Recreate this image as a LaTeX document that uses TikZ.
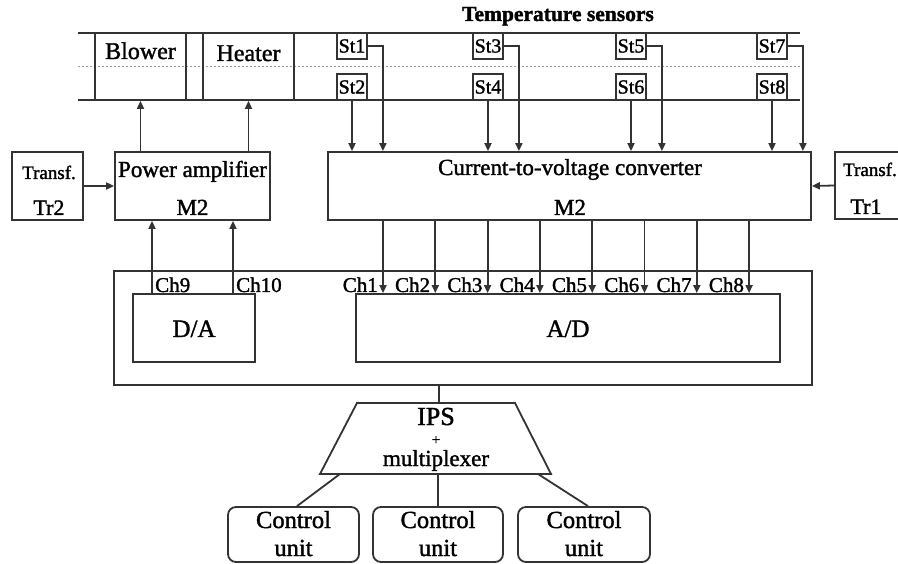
\documentclass[tikz,border=0pt]{standalone}
\usepackage{fontspec}
\setmainfont{Liberation Serif}[FakeBold=1.5]
\usetikzlibrary{arrows.meta}
\tikzset{
  ln/.style={line width=1.8pt, draw=black!80},
  box/.style 2 args={ln, rectangle, inner sep=0pt, minimum width=#1, minimum height=#2},
  arr/.style={ln, -{Triangle[length=8pt,width=7pt]}},
  dotl/.style={draw=black!40, line width=1pt, dash pattern=on 1.5pt off 2.5pt},
  fs/.style={font=\fontsize{#1}{#1}\selectfont},
  tx/.style={inner sep=0pt, anchor=base, fs=23},
  sens/.style={box={30}{26}, fs=20},
  cu/.style={box={#1}{55}, rounded corners=8pt},
}
\begin{document}
\begin{tikzpicture}[x=1pt,y=-1pt]
\useasboundingbox (0,0) rectangle (898,564);

% title
\node[tx, font=\bfseries\fontsize{21.5}{24}\selectfont] (title) at (558,21) {Temperature sensors};

% band
\coordinate (bTL) at (78,33);  \coordinate (bTR) at (800,33);
\coordinate (bBL) at (78,100); \coordinate (bBR) at (800,100);
\coordinate (dL) at (78,67);   \coordinate (dR) at (800,67);
\draw[dotl] (dL) -- (dR);
\draw[ln] (bTL) -- (bTR);
\draw[ln] (bBL) -- (bBR);

\node[box={91}{67}] (blower) at (140.5,66.5) {};
\node[tx, fs=24] (blowert) at (140.5,59) {Blower};
\node[box={91}{67}] (heater) at (248.5,66.5) {};
\node[tx, fs=24] (heatert) at (248.5,61) {Heater};

\foreach \n/\x in {1/352,3/488,5/631,7/772} { \node[sens] (st\n) at (\x,46) {St\n}; }
\foreach \n/\x in {2/352,4/488,6/631,8/772} { \node[sens] (st\n) at (\x,87) {St\n}; }

% converter
\node[box={483}{68}] (conv) at (569.5,186) {};
\node[tx] (convt1) at (570,175) {Current-to-voltage converter};
\node[tx] (convt2) at (570,215) {M2};

% Tr1
\node[inner sep=0pt, minimum width=63, minimum height=67] (tr1) at (866.5,185.5) {};
\draw[ln] (tr1.north east) -- (tr1.north west) -- (tr1.south west) -- (tr1.south east);
\node[tx, fs=19] (tr1t1) at (870,176) {Transf.};
\node[tx, fs=22] (tr1t2) at (866,214) {Tr1};

% Tr2
\node[box={71}{68}] (tr2) at (47.5,186) {};
\node[tx, fs=19] (tr2t1) at (49,179) {Transf.};
\node[tx, fs=22] (tr2t2) at (49,215) {Tr2};

% power amplifier
\node[box={155}{68}] (pa) at (192.5,186) {};
\node[tx] (pat1) at (192.5,177) {Power amplifier};
\node[tx] (pat2) at (192.5,215) {M2};

\draw[arr] (tr2.east) -- (pa.west);
\draw[arr] (tr1.west) -- (conv.east);
\draw[arr] (blower.south |- pa.north) -- (blower.south);
\draw[arr] (heater.south |- pa.north) -- (heater.south);

\foreach \n in {2,4,6,8} { \draw[arr] (st\n.south) -- (st\n.south |- conv.north); }
\foreach \n in {1,3,5,7} {
  \path (st\n.east) ++(15,0) coordinate (sr\n);
  \draw[arr] (st\n.east) -| (sr\n |- conv.north);
}

% interface
\node[box={698}{114}] (ifc) at (463,328) {};
\node[box={122}{68}] (da) at (194,328) {};
\node[tx, fs=25] (dat) at (194,337) {D/A};
\node[box={424}{68}] (ad) at (568,328) {};
\node[tx, fs=25] (adt) at (568,337) {A/D};

\foreach \i in {1,...,8} {
  \pgfmathsetmacro\cx{383+52.3*(\i-1)}
  \coordinate (chx\i) at (\cx,0);
  \draw[arr] (conv.south -| chx\i) -- (ad.north -| chx\i);
  \node[tx, fs=21, anchor=base east] (chl\i) at (\cx-5,292) {Ch\i};
}

\coordinate (ch9x) at (152,0);
\coordinate (ch10x) at (233,0);
\draw[arr] (da.north -| ch9x) -- (pa.south -| ch9x);
\draw[arr] (da.north -| ch10x) -- (pa.south -| ch10x);
\node[tx, fs=21, anchor=base west] (ch9) at (155,292) {Ch9};
\node[tx, fs=21, anchor=base west] (ch10) at (236,292) {Ch10};

% IPS trapezoid
\coordinate (iTL) at (357,403); \coordinate (iTR) at (515,403);
\coordinate (iBR) at (551,474); \coordinate (iBL) at (320,474);
\node[inner sep=0pt, minimum width=231, minimum height=71] (ips) at (435.5,438.5) {};
\draw[ln] (iTL) -- (iTR) -- (iBR) -- (iBL) -- cycle;
\node[tx, fs=26] (ipst1) at (436,425) {IPS};
\node[tx, fs=15] (ipst2) at (436,444.5) {+};
\node[tx] (ipst3) at (436,466) {multiplexer};

\coordinate (ipsin) at (439,403);
\draw[ln] (ifc.south -| ipsin) -- (ipsin);

% control units
\node[cu=131] (cu1) at (293.5,534.5) {};
\node[cu=130] (cu2) at (438,534.5) {};
\node[cu=132] (cu3) at (584,534.5) {};
\foreach \k/\x in {1/293.5,2/438,3/584} {
  \node[tx, fs=24.5] (cut\k a) at (\x,528) {Control};
  \node[tx, fs=24.5] (cut\k b) at (\x,556) {unit};
}

\coordinate (ipso1) at (340,474);
\coordinate (ipso2) at (438,474);
\coordinate (ipso3) at (538,474);
\draw[ln] (ipso1) -- ([xshift=3.5pt]cu1.north);
\draw[ln] (ipso2) -- (cu2.north);
\draw[ln] (ipso3) -- ([xshift=4pt]cu3.north);
\end{tikzpicture}
\end{document}
